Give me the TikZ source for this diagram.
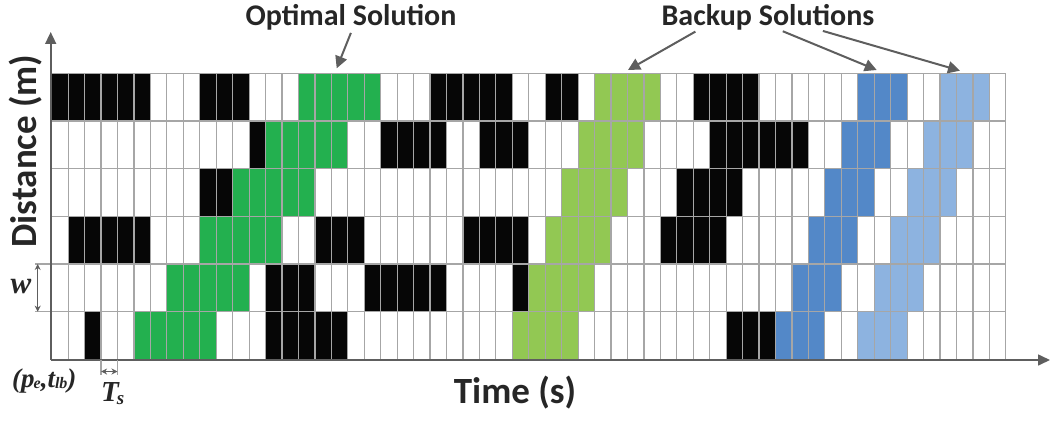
\documentclass[tikz,border=0pt]{standalone}
\usepackage{fontspec}
\setmainfont{Carlito}
\newfontfamily\symfont{Liberation Serif}
\usetikzlibrary{arrows.meta}
\definecolor{ink}{HTML}{262626}
\definecolor{axisgray}{HTML}{5E5E5E}
\definecolor{gridgray}{HTML}{A6A6A6}
\definecolor{busy}{HTML}{060606}
\definecolor{optimal}{HTML}{23B04F}
\definecolor{backupA}{HTML}{92C853}
\definecolor{backupB}{HTML}{5388C8}
\definecolor{backupC}{HTML}{8DB3E0}
\newcommand{\gridx}{51.7}
\newcommand{\gridy}{73.3}
\newcommand{\cellw}{16.45}
\newcommand{\rowh}{47.67}
% busy cells of one row: #1 row (1 = top), #2 list of columns
\newcommand{\busyrow}[2]{\foreach \c in {#2}{%
  \fill[busy] ({\gridx+\c*\cellw},{\gridy+(#1-1)*\rowh}) rectangle ++(\cellw,\rowh);}}
% a solution band: #1 colour, #2 row, #3 first column, #4 length
\newcommand{\band}[4]{%
  \fill[#1] ({\gridx+(#3)*\cellw},{\gridy+(#2-1)*\rowh}) rectangle ++({#4*\cellw},\rowh);}
\tikzset{
  gridline/.style={gridgray,line width=1.2pt},
  axis/.style={axisgray,line width=1.6pt,-{Triangle[length=12pt,width=11pt]}},
  pointer/.style={axisgray,line width=2pt,-{Triangle[length=12pt,width=12pt]}},
  dimline/.style={axisgray,line width=1pt,{Stealth[length=6pt,width=6pt]}-{Stealth[length=6pt,width=6pt]}},
  tickline/.style={gridgray,line width=1.2pt},
  headline/.style={ink,font=\bfseries\fontsize{30}{30}\selectfont,inner sep=0pt},
  axislabel/.style={ink,font=\bfseries\fontsize{37}{37}\selectfont,inner sep=0pt},
  symlabel/.style={ink,font=\symfont\bfseries\itshape,inner sep=0pt},
}

\begin{document}
\begin{tikzpicture}[x=1pt,y=-1pt]
\useasboundingbox (0,0) rectangle (1056,420);

% ---------------------------------------------------------------- occupied slots
\busyrow{1}{0,1,2,3,4,5,9,10,11,23,24,25,26,27,30,31,39,40,41,42}
\busyrow{2}{12,20,21,22,23,26,27,28,40,41,42,43,44,45}
\busyrow{3}{9,10,38,39,40,41}
\busyrow{4}{1,2,3,4,5,16,17,18,25,26,27,28,37,38,39,40}
\busyrow{5}{13,14,15,19,20,21,22,23,28}
\busyrow{6}{2,13,14,15,16,17,41,42,43}

% ---------------------------------------------------------------- solutions
\foreach \r in {1,...,6}{
  \band{optimal}{\r}{15-2*(\r-1)}{5}
  \band{backupA}{\r}{33-(\r-1)}{4}
  \band{backupB}{\r}{49-(\r-1)}{3}
  \band{backupC}{\r}{54-(\r-1)}{3}
}

% ---------------------------------------------------------------- grid
\foreach \i in {0,...,58}
  \draw[gridline] ({\gridx+\i*\cellw},\gridy) -- ++(0,{6*\rowh});
\foreach \j in {0,...,6}
  \draw[gridline] (\gridx,{\gridy+\j*\rowh}) -- ++({58*\cellw},0);

% ---------------------------------------------------------------- axes
\coordinate (origin) at (50.7,360);
\coordinate (ytip) at (50.7,32);
\coordinate (xtip) at (1050,360);
\draw[axis] (origin) -- (ytip);
\draw[axis] (origin) -- (xtip);
\node[axislabel,rotate=90] (dist) at (26,151) {Distance (m)};
\node[axislabel] (time) at (515,393) {Time (s)};

% ---------------------------------------------------------------- row width w
\coordinate (wtop) at (35,{\gridy+4*\rowh});
\coordinate (wbot) at (35,{\gridy+5*\rowh});
\draw[tickline] (wtop) -- ++(15,0);
\draw[tickline] (wbot) -- ++(15,0);
\draw[dimline] ([xshift=2.7pt]wtop) -- ([xshift=2.7pt]wbot);
\node[symlabel,font=\symfont\bfseries\itshape\fontsize{31}{31}\selectfont] (wlab) at (21,287) {w};

% ---------------------------------------------------------------- slot length Ts
\coordinate (tsl) at ({\gridx+3*\cellw},360);
\coordinate (tsr) at ({\gridx+4*\cellw},360);
\draw[tickline] (tsl) -- ++(0,15);
\draw[tickline] (tsr) -- ++(0,15);
\draw[dimline] ([yshift=-11.5pt]tsl) -- ([yshift=-11.5pt]tsr);
\node[symlabel,font=\symfont\bfseries\itshape\fontsize{29}{29}\selectfont,anchor=west] (ts) at (101,394)
     {T\kern-2pt\raisebox{-3pt}{\fontsize{19}{19}\selectfont s}};
\node[symlabel,font=\symfont\bfseries\itshape\fontsize{27}{27}\selectfont,anchor=west] (pe) at (12,381)
     {(p\kern-1pt\raisebox{-1pt}{\fontsize{16}{16}\selectfont e},t\raisebox{-1pt}{\fontsize{16}{16}\selectfont lb})};

% ---------------------------------------------------------------- callouts
\node[headline] (opt) at (351,17) {Optimal Solution};
\node[headline] (backup) at (768,17) {Backup Solutions};
\coordinate (opttip) at (336.7,68.3);
\coordinate (bktipA) at (628,70);
\coordinate (bktipB) at (876.7,70);
\coordinate (bktipC) at (960,70.7);
\draw[pointer,shorten <=3pt] ([xshift=1pt]opt.south) -- (opttip);
\draw[pointer,shorten <=3pt] ([xshift=-70pt]backup.south) -- (bktipA);
\draw[pointer,shorten <=3pt] ([xshift=12pt]backup.south) -- (bktipB);
\draw[pointer,shorten <=3pt] ([xshift=52pt]backup.south) -- (bktipC);

\end{tikzpicture}
\end{document}
